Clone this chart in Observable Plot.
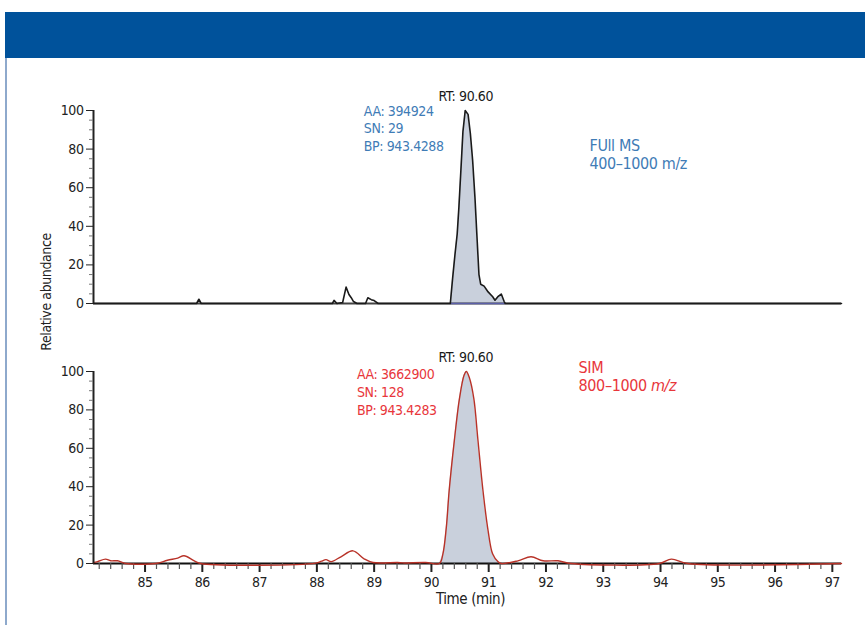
<!DOCTYPE html>
<html><head><meta charset="utf-8">
<script src="https://cdn.jsdelivr.net/npm/d3@7"></script>
<script src="https://cdn.jsdelivr.net/npm/@observablehq/plot@0.6"></script>
<style>
html,body{margin:0;padding:0;background:#fff;}
#page{position:relative;width:865px;height:625px;overflow:hidden;font-family:"DejaVu Sans Condensed","Liberation Sans",sans-serif;}
#band{position:absolute;left:5px;top:12px;width:860px;height:46px;background:#00529B;}
#edge{position:absolute;left:5px;top:58px;width:2px;height:567px;background:#8EA9CC;}
.panel{position:absolute;left:0;}
#ylab{position:absolute;left:46px;top:292px;transform:translate(-50%,-50%) rotate(-90deg);font-size:14px;letter-spacing:-0.4px;color:#222;white-space:nowrap;}
</style></head>
<body>
<div id="page">
  <div id="band"></div>
  <div id="edge"></div>
  <div id="topPanel" class="panel" style="top:80px"></div>
  <div id="botPanel" class="panel" style="top:340px"></div>
  <div id="ylab">Relative abundance</div>
</div>
<script>
// ---------- data ----------
const xDomain = [84.1, 97.16];
const yMajor = [0, 20, 40, 60, 80, 100];
const xMajor = [85, 86, 87, 88, 89, 90, 91, 92, 93, 94, 95, 96, 97];

// Full MS trace (time, relative abundance)
const topT = [84.10, 85.90, 85.94, 85.98, 88.27, 88.30, 88.35, 88.45, 88.51, 88.56, 88.60, 88.64, 88.70, 88.85, 88.89, 88.95, 89.00, 89.07,
              90.33, 90.37, 90.41, 90.45, 90.48, 90.52, 90.55, 90.59, 90.64, 90.68, 90.72, 90.76, 90.80, 90.83, 90.86, 90.92, 90.99,
              91.07, 91.11, 91.16, 91.22, 91.27, 91.29, 97.16];
const topV = [0, 0, 2.2, 0, 0, 1.6, 0, 0.5, 8.5, 4.7, 3, 1, 0, 0, 3, 2, 1.5, 0,
              0, 13, 25, 36, 50, 72, 89, 100, 98, 88, 74, 55, 32, 15, 10, 9, 6,
              3.5, 1.7, 3.5, 4.9, 1, 0, 0];

// SIM trace
const simT = [84.10, 84.17, 84.31, 84.40, 84.52, 84.66, 85.19, 85.39, 85.57, 85.68, 85.86, 85.97, 87.98, 88.08, 88.16, 88.25, 88.42, 88.63, 88.83, 88.98,
              89.41, 89.50, 89.90, 90.14, 90.20, 90.26, 90.31, 90.40, 90.49, 90.57, 90.61, 90.66, 90.74, 90.81, 90.90, 90.99, 91.07, 91.16, 91.22,
              91.51, 91.74, 91.95, 92.21, 92.44, 93.98, 94.19, 94.48, 97.16];
const simV = [0.5, 1, 2.3, 1.4, 1.4, 0, 0, 1.7, 2.8, 4, 1.4, 0, 0.2, 1.2, 2, 1, 3.5, 6.6, 2.3, 0.5,
              0.5, 0.3, 0.5, 0, 4.9, 18.8, 38, 64, 86, 98, 100, 97, 86, 65, 38, 17, 4.9, 1, 0,
              1.4, 3.5, 1.4, 1.4, 0, 0, 2.3, 0, 0];

const rtLabel = "RT: 90.60";
const topNotes = ["AA: 394924", "SN: 29", "BP: 943.4288"];
const topMode = ["FUll MS", "400–1000 m/z"];
const simNotes = ["AA: 3662900", "SN: 128", "BP: 943.4283"];
const simMode = ["SIM", "800–1000 m/z"];
const xTitle = "Time (min)";

// ---------- helpers ----------
const font = '"DejaVu Sans Condensed","Liberation Sans",sans-serif';
const toRows = (T, V) => T.map((t, i) => ({t, v: V[i]}));
const topData = toRows(topT, topV);
const simData = toRows(simT, simV);
const topPeak = topData.filter(d => d.t >= 90.3 && d.t <= 91.3);
const simPeak = simData.filter(d => d.t >= 90.1 && d.t <= 91.25);
const yMinor = d3.range(0, 101, 5).filter(d => d % 20 !== 0);
const xMinor = d3.range(84.2, 97.1, 0.2).map(d => +d.toFixed(1)).filter(d => Math.abs(d - Math.round(d)) > 0.01);
const baseStyle = {fontFamily: font, fontSize: "14px", letterSpacing: "-0.4px", color: "#222", background: "transparent", overflow: "visible"};

function yAxisMarks() {
  return [
    Plot.ruleX([xDomain[0]], {y1: 0, y2: 100, stroke: "#222", strokeWidth: 2}),
    Plot.axisY({ticks: yMinor, tickSize: 4, tickFormat: () => "", stroke: "#777", label: null}),
    Plot.axisY({ticks: yMajor, tickSize: 7, tickPadding: 3, fontSize: 14, stroke: "#222", fill: "#222", label: null})
  ];
}
function noteMarks(lines, x, y0, step, color, size) {
  return lines.map((s, i) => Plot.text([s], {x: () => x, y: () => y0 - i * step, text: d => d,
    textAnchor: "start", fill: color, fontSize: size}));
}

// ---------- top panel ----------
const topPlot = Plot.plot({
  width: 865, height: 240,
  marginLeft: 93, marginRight: 24, marginTop: 30, marginBottom: 17,
  x: {domain: xDomain, axis: null},
  y: {domain: [0, 100]},
  style: baseStyle,
  marks: [
    Plot.areaY(topPeak, {x: "t", y: "v", fill: "#C9D0DC"}),
    Plot.ruleY([0], {stroke: "#444", strokeWidth: 2}),
    Plot.ruleY([0], {x1: () => topPeak[0].t, x2: () => topPeak[topPeak.length - 1].t, stroke: "#5B5FA8", strokeWidth: 1.5}),
    Plot.lineY(topData, {x: "t", y: "v", stroke: "#1a1a1a", strokeWidth: 1.6}),
    ...yAxisMarks(),
    Plot.text([rtLabel], {x: () => 90.60, y: () => 107.5, text: d => d, fill: "#1a1a1a", fontSize: 14}),
    ...noteMarks(topNotes, 88.82, 99.5, 9.07, "#3F7CB6", 14),
    ...noteMarks(topMode, 92.76, 81.6, 9.07, "#3F7CB6", 16)
  ]
});
document.getElementById("topPanel").appendChild(topPlot);

// ---------- bottom panel ----------
const botPlot = Plot.plot({
  width: 865, height: 285,
  marginLeft: 93, marginRight: 24, marginTop: 31, marginBottom: 62,
  x: {domain: xDomain},
  y: {domain: [0, 100]},
  style: baseStyle,
  marks: [
    Plot.areaY(simPeak, {x: "t", y: "v", fill: "#C9D0DC", curve: "catmull-rom"}),
    Plot.ruleY([0], {stroke: "#111", strokeWidth: 2}),
    Plot.axisX({ticks: xMinor, tickSize: 6, tickFormat: () => "", stroke: "#555", strokeWidth: 1.2, label: null}),
    Plot.axisX({ticks: xMajor, tickSize: 9, tickPadding: 5, fontSize: 14, stroke: "#222", strokeWidth: 2, fill: "#222", label: null}),
    Plot.lineY(simData, {x: "t", y: "v", stroke: "#B83228", strokeWidth: 1.4, curve: "catmull-rom"}),
    ...yAxisMarks(),
    Plot.text([xTitle], {frameAnchor: "bottom", dy: 40, dx: 3, text: d => d, fill: "#222", fontSize: 15}),
    Plot.text([rtLabel], {x: () => 90.60, y: () => 107.4, text: d => d, fill: "#1a1a1a", fontSize: 14}),
    ...noteMarks(simNotes, 88.70, 98.4, 9.4, "#E8363B", 14),
    ...noteMarks(simMode, 92.57, 102, 9.4, "#E8363B", 16)
  ]
});
d3.select(botPlot).selectAll("text").filter(function () { return simMode.includes(this.textContent); })
  .each(function () {
    const s = this.textContent;
    const k = s.indexOf("m/z");
    if (k > 0) {
      const el = d3.select(this);
      el.text(s.slice(0, k));
      el.append("tspan").attr("font-style", "italic").text("m/z");
    }
  });
document.getElementById("botPanel").appendChild(botPlot);
</script>
</body></html>
